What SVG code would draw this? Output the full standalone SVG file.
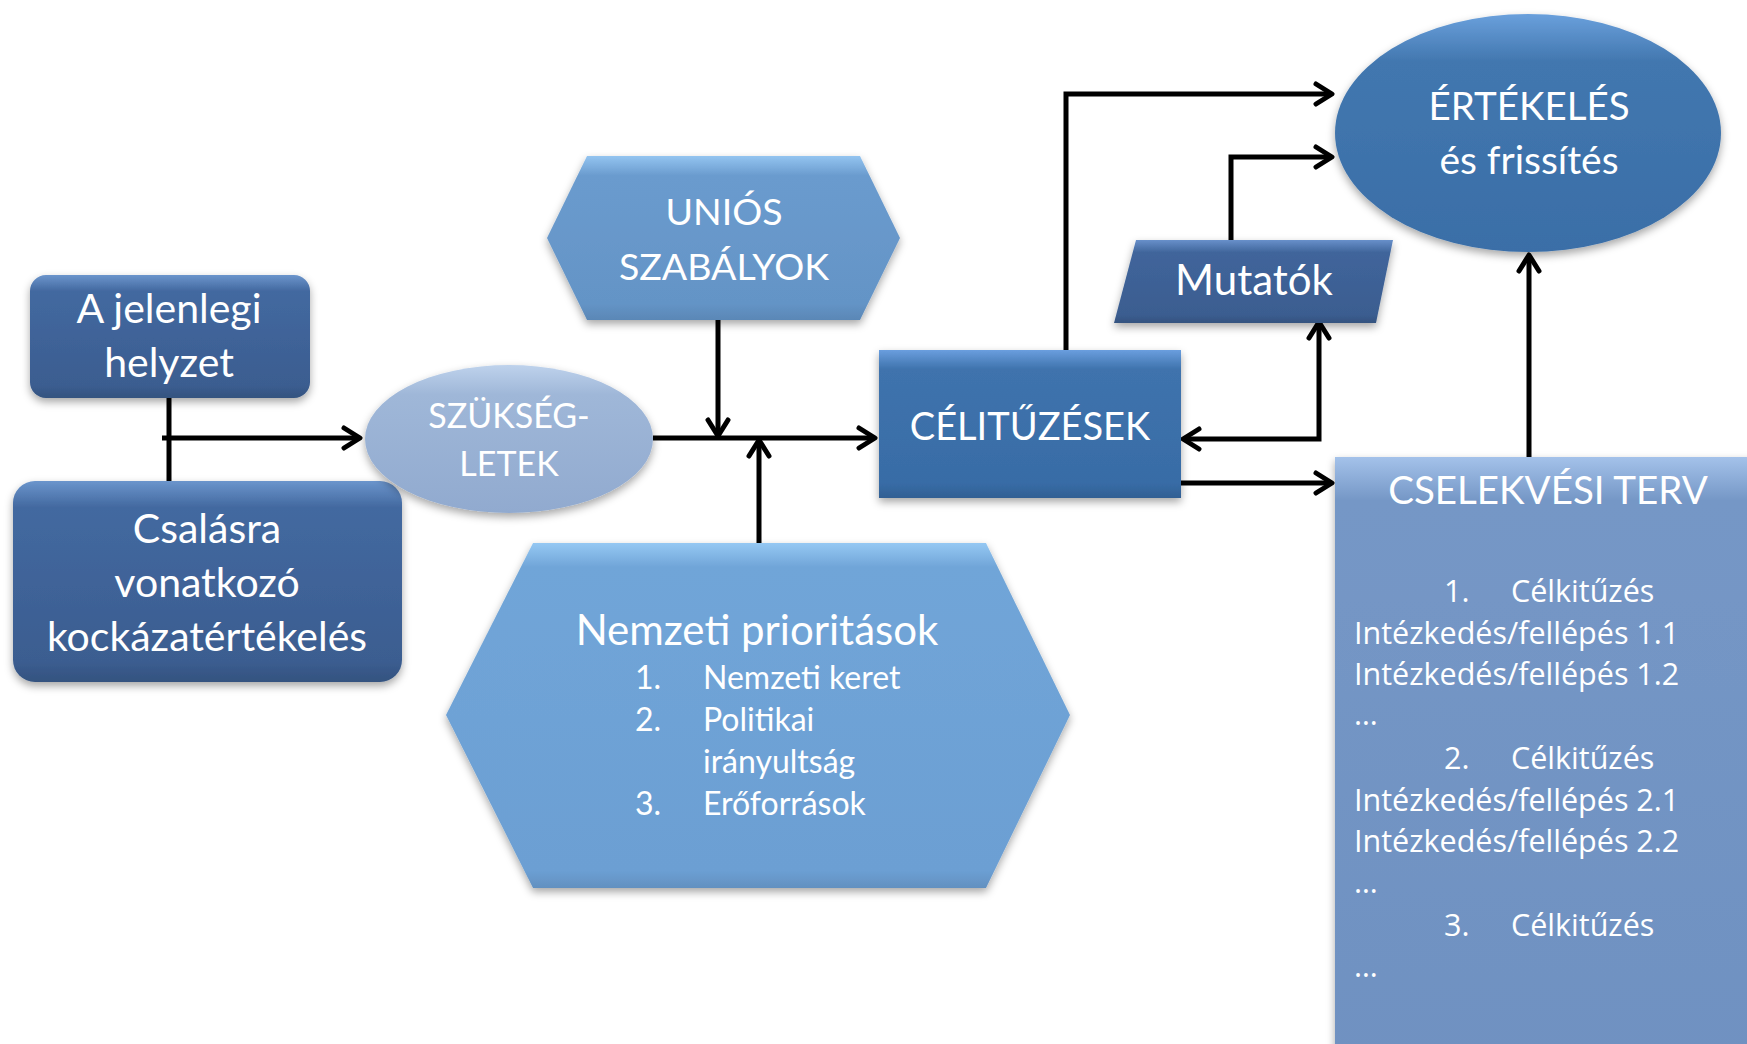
<svg xmlns="http://www.w3.org/2000/svg" width="1747" height="1044" viewBox="0 0 1747 1044">
<defs>
<style>
.t{font-family:Lato,"Liberation Sans",sans-serif;fill:#ffffff;text-anchor:middle}
.l{font-family:"Open Sans","Liberation Sans",sans-serif;fill:#ffffff;font-size:30.5px}
.c{fill:none;stroke:#000;stroke-width:5;stroke-linejoin:miter}
</style>
<filter id="sh" x="-10%" y="-10%" width="120%" height="130%">
<feDropShadow dx="0" dy="4" stdDeviation="4" flood-color="#000" flood-opacity="0.35"/>
</filter>
<marker id="ar" viewBox="0 0 22 26" refX="19" refY="13" markerWidth="22" markerHeight="26" markerUnits="userSpaceOnUse" orient="auto-start-reverse">
<path d="M3,3 L19,13 L3,23" fill="none" stroke="#000" stroke-width="5" stroke-linecap="round" stroke-linejoin="round"/>
</marker>
<linearGradient id="gDark" x1="0" y1="0" x2="0" y2="1"><stop offset="0" stop-color="#6b95cc"/><stop offset="0.13" stop-color="#4369a0"/><stop offset="0.9" stop-color="#3b5d90"/><stop offset="1" stop-color="#34537f"/></linearGradient>
<linearGradient id="gSz" x1="0" y1="0" x2="0" y2="1"><stop offset="0" stop-color="#bed2ec"/><stop offset="0.2" stop-color="#9fb7d8"/><stop offset="1" stop-color="#91aacf"/></linearGradient>
<linearGradient id="gUn" x1="0" y1="0" x2="0" y2="1"><stop offset="0" stop-color="#93c4f0"/><stop offset="0.12" stop-color="#6a9bce"/><stop offset="0.9" stop-color="#6494c6"/><stop offset="1" stop-color="#5a87b6"/></linearGradient>
<linearGradient id="gCel" x1="0" y1="0" x2="0" y2="1"><stop offset="0" stop-color="#6a9ede"/><stop offset="0.13" stop-color="#3f73ad"/><stop offset="0.9" stop-color="#386ca6"/><stop offset="1" stop-color="#315f93"/></linearGradient>
<linearGradient id="gMut" x1="0" y1="0" x2="0" y2="1"><stop offset="0" stop-color="#6890ca"/><stop offset="0.15" stop-color="#40659b"/><stop offset="0.9" stop-color="#3b5d90"/><stop offset="1" stop-color="#34537f"/></linearGradient>
<linearGradient id="gErt" x1="0" y1="0" x2="0" y2="1"><stop offset="0" stop-color="#6aa0dc"/><stop offset="0.2" stop-color="#4277af"/><stop offset="1" stop-color="#3a6ea7"/></linearGradient>
<linearGradient id="gNem" x1="0" y1="0" x2="0" y2="1"><stop offset="0" stop-color="#95c8f3"/><stop offset="0.07" stop-color="#70a5d8"/><stop offset="0.95" stop-color="#6c9fd3"/><stop offset="1" stop-color="#6290c0"/></linearGradient>
<linearGradient id="gCs" x1="0" y1="0" x2="0" y2="1"><stop offset="0" stop-color="#a4c2ea"/><stop offset="0.07" stop-color="#7597c6"/><stop offset="1" stop-color="#6f91c1"/></linearGradient>
</defs>
<rect width="1747" height="1044" fill="#ffffff"/>

<g id="connectors">
<path class="c" d="M169,398 L169,481"/>
<path class="c" d="M162,438 L360,438" marker-end="url(#ar)"/>
<path class="c" d="M653,438 L875,438" marker-end="url(#ar)"/>
<path class="c" d="M718,320 L718,436" marker-end="url(#ar)"/>
<path class="c" d="M759,543 L759,440" marker-end="url(#ar)"/>
<path class="c" d="M1066,350 L1066,94 L1332,94" marker-end="url(#ar)"/>
<path class="c" d="M1231,240 L1231,157 L1332,157" marker-end="url(#ar)"/>
<path class="c" d="M1183,439 L1319,439 L1319,322" marker-start="url(#ar)" marker-end="url(#ar)"/>
<path class="c" d="M1181,483 L1332,483" marker-end="url(#ar)"/>
<path class="c" d="M1529,457 L1529,255" marker-end="url(#ar)"/>
</g>

<g id="node-jelenlegi">
<rect x="30" y="275" width="280" height="123" rx="16" fill="url(#gDark)" filter="url(#sh)"/>
<text class="t" x="169" y="323" font-size="41">A jelenlegi</text>
<text class="t" x="169" y="377" font-size="41">helyzet</text>
</g>

<g id="node-csalasra">
<rect x="13" y="481" width="389" height="201" rx="22" fill="url(#gDark)" filter="url(#sh)"/>
<text class="t" x="207" y="543" font-size="41">Csalásra</text>
<text class="t" x="207" y="597" font-size="41">vonatkozó</text>
<text class="t" x="207" y="651" font-size="41">kockázatértékelés</text>
</g>

<g id="node-szuksegletek">
<ellipse cx="509" cy="439" rx="144" ry="74" fill="url(#gSz)" filter="url(#sh)"/>
<text class="t" x="509" y="428" font-size="34">SZÜKSÉG-</text>
<text class="t" x="509" y="476" font-size="34">LETEK</text>
</g>

<g id="node-unios">
<polygon points="547,238 587,156 860,156 900,238 860,320 587,320" fill="url(#gUn)" filter="url(#sh)"/>
<text class="t" x="724" y="225" font-size="37.5">UNIÓS</text>
<text class="t" x="724" y="280" font-size="37.5">SZABÁLYOK</text>
</g>

<g id="node-nemzeti">
<polygon points="446,715 533,543 986,543 1070,715 986,888 533,888" fill="url(#gNem)" filter="url(#sh)"/>
<text class="t" x="757" y="645" font-size="42">Nemzeti prioritások</text>
<g font-family="Lato,'Liberation Sans',sans-serif" fill="#fff" font-size="32">
<text x="635" y="689">1.</text><text x="703" y="689">Nemzeti keret</text>
<text x="635" y="731">2.</text><text x="703" y="731">Politikai</text>
<text x="703" y="773">irányultság</text>
<text x="635" y="815">3.</text><text x="703" y="815">Erőforrások</text>
</g>
</g>

<g id="node-celkituzesek">
<rect x="879" y="350" width="302" height="148" fill="url(#gCel)" filter="url(#sh)"/>
<text class="t" x="1030" y="440" font-size="38">CÉLITŰZÉSEK</text>
</g>

<g id="node-mutatok">
<polygon points="1136,240 1393,240 1376,323 1114,323" fill="url(#gMut)" filter="url(#sh)"/>
<text class="t" x="1254" y="295" font-size="42">Mutatók</text>
</g>

<g id="node-ertekeles">
<ellipse cx="1528" cy="133" rx="193" ry="119" fill="url(#gErt)" filter="url(#sh)"/>
<text class="t" x="1529" y="120" font-size="38.5">ÉRTÉKELÉS</text>
<text class="t" x="1529" y="174" font-size="39">és frissítés</text>
</g>

<g id="node-cselekvesi">
<rect x="1335" y="457" width="430" height="620" fill="url(#gCs)" filter="url(#sh)"/>
<text class="t" x="1548" y="504" font-size="38.5">CSELEKVÉSI TERV</text>
<text class="l" x="1444" y="602">1.</text><text class="l" x="1511" y="602">Célkitűzés</text>
<text class="l" x="1354" y="644">Intézkedés/fellépés 1.1</text>
<text class="l" x="1354" y="685">Intézkedés/fellépés 1.2</text>
<text class="l" x="1354" y="725">…</text>
<text class="l" x="1444" y="769">2.</text><text class="l" x="1511" y="769">Célkitűzés</text>
<text class="l" x="1354" y="811">Intézkedés/fellépés 2.1</text>
<text class="l" x="1354" y="852">Intézkedés/fellépés 2.2</text>
<text class="l" x="1354" y="893">…</text>
<text class="l" x="1444" y="936">3.</text><text class="l" x="1511" y="936">Célkitűzés</text>
<text class="l" x="1354" y="977">…</text>
</g>
</svg>
